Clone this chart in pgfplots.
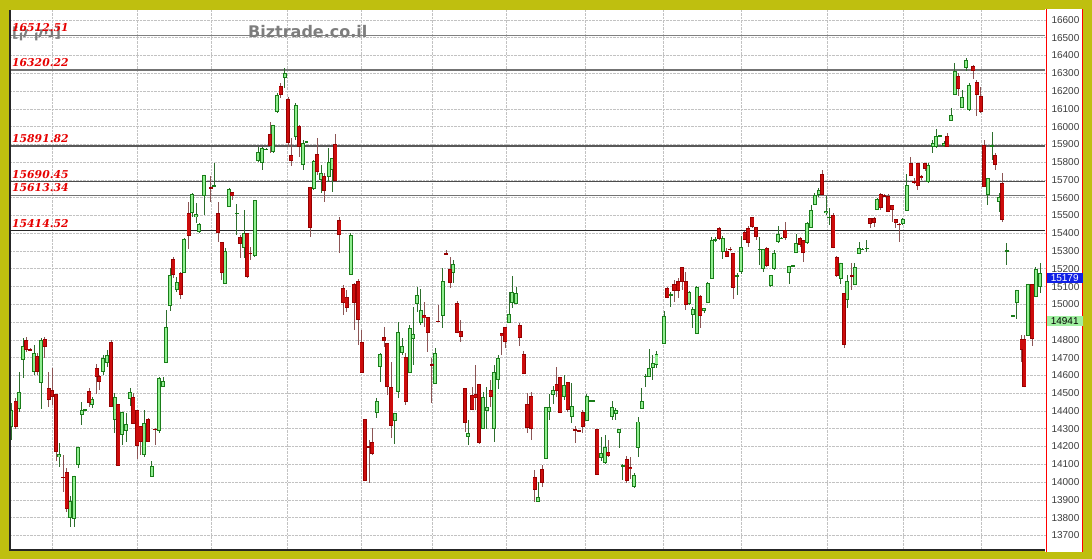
\documentclass[border=0pt]{standalone}
\usepackage{fontspec}
\setmainfont{Liberation Sans}
\newfontfamily\lblfont{DejaVu Serif}
\newfontfamily\wmfont{DejaVu Sans}
\newfontfamily\hebfont[Script=Hebrew]{DejaVu Sans}
\TeXXeTstate=1
\usepackage{pgfplots}
\pgfplotsset{compat=1.18}
\usepackage{pgfplotstable}

\definecolor{bgol}{RGB}{191,191,15}
\definecolor{gfill}{RGB}{144,238,144}
\definecolor{gline}{RGB}{25,125,25}
\definecolor{gwick}{RGB}{45,110,45}
\definecolor{rfill}{RGB}{204,12,12}
\definecolor{rline}{RGB}{150,0,0}
\definecolor{rwick}{RGB}{140,85,85}
\definecolor{lblred}{RGB}{230,0,0}
\definecolor{boxblue}{RGB}{16,32,230}
\definecolor{boxgreen}{RGB}{160,240,160}
\definecolor{tickc}{RGB}{60,60,60}
\definecolor{wmgray}{RGB}{125,125,125}

% candles: x = pixel column, o h l c
\pgfplotstableread{
x o h l c
11 14312 14444 14237 14406
19 14412 14622 14397 14506
23 14687 14809 14584 14768
34 14622 14772 14603 14729
41.3 14556 14809 14410 14800
59.3 14140 14219 14087 14159
70 13797 13922 13750 13891
74 13793 14037 13750 14037
78 14097 14200 14078 14200
81.7 14378 14449 14322 14406
85.3 14404 14410 14400 14408
92.3 14431 14481 14416 14468
103.3 14622 14716 14603 14697
107.3 14672 14744 14650 14716
114.7 14350 14500 14279 14481
122.3 14266 14397 14206 14397
126 14290 14387 14228 14327
130 14468 14528 14428 14506
144 14153 14406 14140 14335
151.7 14028 14119 14028 14091
159 14290 14594 14279 14584
163 14534 14594 14534 14569
166.3 14669 14969 14669 14875
170 14990 15203 14960 15165
176.7 15081 15156 15070 15128
184.3 15175 15372 15175 15366
192 15512 15625 15494 15619
196 15490 15569 15456 15509
199.3 15409 15460 15400 15451
204 15610 15728 15503 15728
214 15662 15794 15662 15670
225 15115 15316 15115 15301
229 15550 15653 15550 15647
236.7 15509 15565 15391 15515
244 15316 15531 15259 15400
254.7 15272 15587 15269 15587
258.3 15809 15887 15803 15859
262.3 15797 15884 15756 15878
266 15869 15878 15866 15875
273.3 15859 16009 15850 16009
277 16084 16187 16075 16178
284.7 16272 16328 16215 16300
295.7 15944 16131 15925 16122
303 15784 15925 15756 15910
306.5 15912 15920 15910 15918
313.7 15647 15812 15644 15809
321 15700 15784 15625 15737
328.7 15715 15878 15690 15803
332 15756 15822 15634 15822
350.7 15165 15400 15165 15390
376.7 14387 14472 14359 14459
380 14646 14728 14565 14721
394.7 14341 14391 14215 14391
398 14509 14903 14472 14843
402.3 14728 14809 14715 14766
409.7 14616 14884 14616 14865
413 14804 14987 14659 14834
417.3 15000 15100 14959 15053
420.7 14897 15084 14884 14969
435.3 14552 14753 14552 14725
442.7 14935 15203 14865 15134
453.3 15178 15250 15122 15227
468.3 14256 14350 14209 14279
483.3 14297 14509 14297 14477
486.7 14402 14537 14297 14425
494 14297 14659 14228 14622
498 14575 14715 14522 14697
509 14897 15072 14897 14946
512.3 15006 15160 14978 15072
516.3 15002 15100 15002 15066
538.3 13890 14003 13890 13915
545.7 14129 14421 14129 14421
549.3 14397 14496 14350 14421
553.3 14490 14541 14440 14519
564.3 14477 14603 14462 14547
571.7 14369 14556 14331 14428
586.7 14341 14496 14341 14485
590 14455 14462 14453 14460
593.5 14455 14462 14453 14460
601 14134 14252 14121 14162
605 14106 14265 14102 14200
612.3 14369 14459 14350 14425
615.7 14384 14415 14350 14406
619 14279 14297 14190 14297
622.7 14089 14102 14012 14093
634 13971 14050 13965 14040
638 14190 14368 14144 14341
641.7 14410 14528 14410 14459
645.7 14595 14609 14534 14599
649 14594 14747 14594 14640
652.7 14640 14715 14575 14669
656.5 14660 14740 14640 14720
664 14777 14965 14777 14935
670.7 15050 15072 14987 15056
689.3 15002 15077 14997 15072
692.7 14940 14987 14865 14972
696.7 14834 15103 14834 15100
704 14965 14978 14950 14978
707.7 15010 15128 15010 15119
711.7 15141 15381 15141 15362
715.3 15360 15377 15353 15366
722.7 15297 15384 15253 15372
737.3 15157 15175 15053 15163
741 15184 15385 15171 15325
759.7 15307 15381 15222 15313
763.3 15197 15310 15184 15310
770.7 15103 15165 15100 15165
774 15197 15306 15193 15291
778 15353 15441 15347 15396
781.3 15369 15378 15366 15375
789 15175 15216 15115 15216
792.7 15214 15220 15212 15218
796 15291 15396 15287 15344
807.3 15344 15465 15340 15460
811.3 15428 15559 15428 15531
814.7 15559 15628 15559 15615
818.7 15615 15653 15606 15644
826 15512 15609 15503 15527
829.3 15488 15540 15447 15494
840.7 15141 15235 15115 15235
847.3 15025 15165 14978 15134
854.7 15109 15231 15109 15212
859 15284 15353 15284 15316
862.3 15308 15316 15306 15312
866.7 15313 15362 15297 15319
877.3 15531 15597 15531 15591
902.7 15453 15484 15447 15479
906.7 15527 15734 15527 15672
928.3 15691 15794 15681 15784
932.7 15888 15925 15853 15910
936 15888 15984 15878 15947
940 15945 15952 15943 15950
944 15891 15921 15884 15910
951 16034 16103 16034 16066
954.7 16178 16360 16178 16315
962 16103 16206 16103 16165
966 16328 16384 16315 16375
969.3 16094 16244 16090 16234
987.7 15615 15709 15559 15709
992 15889 15972 15812 15893
999.3 15578 15625 15521 15606
1006.7 15300 15347 15222 15304
1013.3 14935 14942 14932 14939
1016.7 15006 15081 14916 15081
1028.3 14822 15115 14822 15115
1035.7 15044 15212 15044 15197
1040 15100 15231 15062 15179
}\updata

\pgfplotstableread{
x o h l c
15.7 14459 14472 14300 14312
26.3 14800 14815 14734 14744
30 14748 14752 14738 14742
37 14712 14725 14603 14618
44.7 14804 14815 14697 14762
48.7 14528 14622 14425 14462
52 14519 14641 14434 14481
56 14494 14494 14116 14172
63.3 14031 14153 13947 14022
66.7 14056 14078 13834 13849
89.3 14515 14528 14425 14444
96.7 14641 14663 14496 14590
99.3 14598 14603 14519 14566
111 14787 14800 14425 14425
118.3 14440 14440 14091 14091
133.3 14477 14500 14327 14327
137.3 14406 14406 14129 14206
140.7 14318 14318 14153 14228
148 14356 14360 14228 14228
155.3 14300 14303 14209 14294
173.3 15254 15269 15150 15165
180.7 15175 15180 15030 15050
188.7 15516 15578 15310 15385
210.7 15660 15722 15578 15654
218 15516 15578 15353 15404
221.7 15353 15353 15137 15179
232.3 15634 15634 15587 15610
240 15377 15391 15259 15340
247.3 15404 15404 15147 15152
250 15290 15325 15250 15284
270 15959 16028 15850 15891
280.7 16231 16244 16159 16178
288 16154 16169 15887 15910
291.3 15840 15934 15778 15809
299 16004 16009 15831 15884
310 15659 15659 15381 15428
317.3 15844 15934 15728 15747
324 15722 15737 15578 15640
335.3 15902 15959 15696 15696
339.3 15475 15494 15287 15391
343.3 15090 15109 14941 15006
346.7 15044 15081 14959 14978
354 15115 15119 14856 15006
358.3 15134 15141 14772 14912
361.7 14790 14856 14616 14616
365 14353 14353 14009 14009
369 14203 14237 13994 14197
372.3 14228 14303 14153 14157
384 14819 14871 14762 14796
387.3 14785 14785 14490 14537
391.3 14537 14678 14247 14318
405.7 14702 14728 14431 14453
424.3 14940 15015 14875 14922
427.7 14931 14931 14734 14841
431.7 14662 14697 14444 14656
438.3 14909 14997 14903 14903
446 15287 15306 15275 15281
450 15197 15269 15090 15119
457.3 15006 15021 14837 14837
460.7 14852 14912 14790 14815
465 14528 14528 14284 14331
472.3 14490 14537 14406 14406
475.7 14496 14659 14406 14472
479 14552 14552 14215 14222
490.7 14519 14575 14425 14481
501.7 14837 14841 14715 14822
505.3 14871 14871 14753 14790
519.7 14884 14897 14766 14809
523.7 14721 14740 14609 14609
527.3 14440 14503 14279 14303
531.3 14485 14509 14237 14297
534.7 14027 14068 13890 13956
542 14072 14097 13975 13997
556.7 14552 14650 14481 14515
560.3 14590 14590 14391 14391
567.7 14565 14565 14397 14406
575 14297 14316 14222 14291
578.7 14293 14295 14285 14287
582.7 14397 14406 14278 14309
597.3 14297 14297 14040 14040
608.3 14172 14237 14144 14147
626.7 14129 14147 13997 14009
630.3 14087 14144 14016 14072
667.3 15090 15100 15034 15034
674.3 15115 15137 15015 15077
678.3 15134 15147 15034 15077
682 15209 15209 15081 15128
685.7 15134 15184 14968 14997
700.3 15047 15053 14865 14935
719 15428 15437 15362 15366
726.7 15302 15315 15265 15265
730.3 15313 15320 15300 15307
733.3 15291 15291 15028 15090
744.7 15409 15415 15362 15362
748.3 15428 15441 15325 15347
752.3 15490 15494 15428 15437
756 15434 15437 15362 15377
766.7 15315 15321 15212 15216
785.3 15419 15465 15362 15372
800 15372 15377 15325 15334
803.3 15362 15362 15240 15287
822 15734 15756 15615 15615
833.3 15503 15512 15315 15315
836.7 15268 15272 15156 15160
844 15066 15066 14753 14772
851.7 15163 15231 15081 15157
870 15484 15484 15428 15453
874 15484 15494 15437 15456
880.7 15621 15628 15531 15540
884.3 15615 15618 15606 15609
888.3 15610 15621 15522 15522
892.3 15559 15559 15465 15531
895.7 15479 15479 15428 15456
899 15453 15456 15353 15447
910.7 15797 15831 15722 15722
914 15696 15709 15681 15685
917.7 15794 15794 15644 15666
921 15722 15728 15700 15709
925 15794 15797 15753 15760
947.3 15947 15966 15888 15888
958.3 16285 16300 16172 16210
973.3 16341 16347 16266 16315
976.7 16253 16262 16060 16178
980.7 16172 16225 16075 16084
984 15897 15925 15663 15663
995 15840 15850 15756 15784
1002.3 15685 15737 15465 15475
1021.7 14803 14825 14678 14743
1024.3 14803 14825 14534 14534
1032.3 15115 15115 14765 14803
}\downdata

\pgfplotsset{
  wick/.style={only marks, mark=*, mark size=0pt,
    mark options={draw=none, fill=none},
    error bars/.cd, y dir=both, y explicit, error mark=none,
    error bar style={line width=0.8bp, draw=#1, solid}},
  body/.style 2 args={only marks, mark=*, mark size=0pt,
    mark options={draw=none, fill=none},
    error bars/.cd, y dir=both, y explicit, error mark=none,
    error bar style={line width=#1, draw=#2, solid, line cap=butt}},
}

\begin{document}
\begin{tikzpicture}
\useasboundingbox (0,0) rectangle (1092bp,559bp);
\fill[bgol] (0,0) rectangle (1092bp,559bp);
\fill[white] (1045bp,7bp) rectangle (1083bp,550bp);

\begin{axis}[
    at={(10bp,9bp)}, anchor=south west,
    scale only axis, width=1035bp, height=540bp,
    xmin=10, xmax=1045, ymin=13618, ymax=16656,
    axis background/.style={fill=white},
    axis line style={draw=none},
    clip mode=individual,
    xtick={52,137,211,287,361,432,506,585,663,741,827,903,981},
    xticklabels={},
    ytick={13700,13800,...,16600},
    scaled y ticks=false,
    yticklabel pos=right,
    major tick length=0pt,
    grid=major,
    major grid style={densely dotted, black!24, line width=0.6bp},
    /pgf/number format/1000 sep={},
    /pgf/number format/assume math mode=true,
    yticklabel style={font=\fontsize{10bp}{12bp}\selectfont, text=tickc, anchor=west, xshift=3bp,
      /pgf/number format/fixed, /pgf/number format/precision=0},
]

% support / resistance levels
\addplot[draw=black!50, line width=1.8bp] coordinates {(10,16512.51) (1045,16512.51)};
\addplot[draw=black!55, line width=1.8bp] coordinates {(10,16320.22) (1045,16320.22)};
\addplot[draw=black!65, line width=1.6bp] coordinates {(10,15891.82) (1045,15891.82)};
\addplot[draw=black!70, line width=1.4bp] coordinates {(10,15690.45) (1045,15690.45)};
\addplot[draw=black!55, line width=1.4bp] coordinates {(10,15613.34) (1045,15613.34)};
\addplot[draw=black!85, line width=1.1bp] coordinates {(10,15414.52) (1045,15414.52)};

% green candles
\addplot[wick=gwick] table[x=x, y=c,
    y error plus expr=\thisrow{h}-\thisrow{c},
    y error minus expr=\thisrow{c}-\thisrow{l}] {\updata};
\addplot[body={3.8bp}{gline}] table[x=x, y expr=(\thisrow{o}+\thisrow{c})/2,
    y error expr={max(abs(\thisrow{c}-\thisrow{o})/2,2.8)}] {\updata};
\addplot[body={2.2bp}{gfill}] table[x=x, y expr=(\thisrow{o}+\thisrow{c})/2,
    y error expr={max(abs(\thisrow{c}-\thisrow{o})/2-5.6,0)}] {\updata};

% red candles
\addplot[wick=rwick] table[x=x, y=c,
    y error plus expr=\thisrow{h}-\thisrow{c},
    y error minus expr=\thisrow{c}-\thisrow{l}] {\downdata};
\addplot[body={3.8bp}{rline}] table[x=x, y expr=(\thisrow{o}+\thisrow{c})/2,
    y error expr={max(abs(\thisrow{c}-\thisrow{o})/2,2.8)}] {\downdata};
\addplot[body={2.6bp}{rfill}] table[x=x, y expr=(\thisrow{o}+\thisrow{c})/2,
    y error expr={max(abs(\thisrow{c}-\thisrow{o})/2-5.6,0)}] {\downdata};

% watermark texts
\node[anchor=base west, inner sep=0pt, text=wmgray, font=\wmfont\bfseries\fontsize{16bp}{18bp}\selectfont]
    at (axis cs:248,16501) {Biztrade.co.il};
\node[anchor=base west, inner sep=0pt, text=wmgray, font=\hebfont\bfseries\fontsize{14bp}{16bp}\selectfont]
    at (axis cs:12,16499) {\beginR[ניק ק]\endR};

% level labels
\foreach \v in {16512.51,16320.22,15891.82,15690.45,15613.34,15414.52}{
  \edef\tmp{\noexpand\node[anchor=base west, inner sep=0pt, yshift=3.5bp, text=lblred,
    font=\noexpand\lblfont\noexpand\bfseries\noexpand\itshape\noexpand\fontsize{10.8bp}{12bp}\noexpand\selectfont]
    at (axis cs:12,\v) {\v};}\tmp
}
\end{axis}

% frame
\draw[black!85, line width=1.2bp] (10bp,549bp) -- (10bp,9bp) -- (1045bp,9bp);
\draw[red, line width=1bp] (1046.5bp,7bp) -- (1046.5bp,550bp);
\draw[red, line width=1bp] (1082.5bp,7bp) -- (1082.5bp,550bp);

% last price boxes
\node[fill=boxblue, text=white, anchor=west, inner xsep=3bp, inner ysep=0pt,
      minimum height=10.6bp, minimum width=36bp,
      font=\fontsize{10bp}{12bp}\selectfont] at (1046.5bp,281bp) {15179};
\node[fill=boxgreen, text=black, anchor=west, inner xsep=3bp, inner ysep=0pt,
      minimum height=10.6bp, minimum width=36bp,
      font=\fontsize{10bp}{12bp}\selectfont] at (1046.5bp,238bp) {14941};
\end{tikzpicture}
\end{document}
